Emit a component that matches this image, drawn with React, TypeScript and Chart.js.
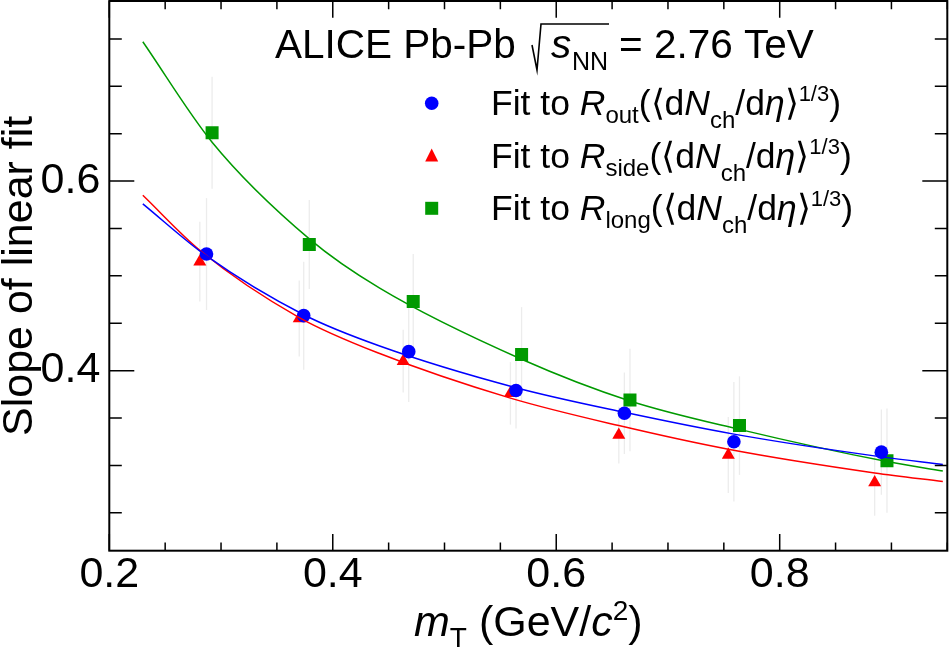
import React, { useEffect, useRef } from 'react';
import { Chart, registerables } from 'chart.js';

Chart.register(...registerables);

// measured points: mT (GeV/c^2), slope of linear fit, error
const mtOut = [0.287, 0.374, 0.468, 0.564, 0.661, 0.759, 0.891];
const slopeOut = [0.523, 0.458, 0.420, 0.379, 0.355, 0.325, 0.314];
const errOut = [0.059, 0.057, 0.053, 0.040, 0.043, 0.063, 0.045];

const mtSide = [0.281, 0.370, 0.463, 0.559, 0.656, 0.754, 0.885];
const slopeSide = [0.515, 0.455, 0.410, 0.376, 0.332, 0.311, 0.282];
const errSide = [0.042, 0.040, 0.033, 0.033, 0.030, 0.040, 0.035];

const mtLong = [0.292, 0.379, 0.472, 0.569, 0.666, 0.764, 0.896];
const slopeLong = [0.651, 0.533, 0.473, 0.417, 0.369, 0.342, 0.305];
const errLong = [0.059, 0.047, 0.050, 0.050, 0.054, 0.052, 0.055];

// fit curves
const fitXOut = [0.23, 0.287, 0.374, 0.442, 0.564, 0.661, 0.759, 0.891, 0.946];
const fitOut = [0.576, 0.521, 0.459, 0.426, 0.382, 0.356, 0.333, 0.309, 0.301];
const fitXSide = [0.23, 0.281, 0.370, 0.442, 0.559, 0.656, 0.754, 0.885, 0.946];
const fitSide = [0.585, 0.527, 0.456, 0.418, 0.371, 0.342, 0.317, 0.292, 0.283];
const fitXLong = [0.23, 0.292, 0.379, 0.442, 0.569, 0.666, 0.764, 0.896, 0.946];
const fitLong = [0.747, 0.641, 0.539, 0.487, 0.412, 0.368, 0.338, 0.304, 0.294];

const xMajor = [0.2, 0.4, 0.6, 0.8];
const yMajor = [0.4, 0.6];

const BLUE = '#0000ff';
const RED = '#ff0000';
const GREEN = '#009a00';
const FONT = '"Liberation Sans", Arial, Helvetica, sans-serif';

const pts = (xs: number[], ys: number[]) => xs.map((v, i) => ({ x: v, y: ys[i] }));
const isMajor = (v: number, list: number[]) => list.some((m) => Math.abs(m - v) < 1e-6);

type Run = { t: string; size: number; it?: boolean; dy?: number };

function runsWidth(ctx: CanvasRenderingContext2D, runs: Run[]) {
  let w = 0;
  for (const r of runs) {
    ctx.font = `${r.it ? 'italic ' : ''}${r.size}px ${FONT}`;
    w += ctx.measureText(r.t).width;
  }
  return w;
}

function drawRuns(ctx: CanvasRenderingContext2D, runs: Run[], x: number, y: number) {
  let cx = x;
  ctx.textAlign = 'left';
  ctx.textBaseline = 'alphabetic';
  for (const r of runs) {
    ctx.font = `${r.it ? 'italic ' : ''}${r.size}px ${FONT}`;
    ctx.fillText(r.t, cx, y + (r.dy || 0));
    cx += ctx.measureText(r.t).width;
  }
  return cx;
}

function marker(ctx: CanvasRenderingContext2D, kind: string, x: number, y: number, color: string) {
  ctx.fillStyle = color;
  ctx.beginPath();
  if (kind === 'circle') {
    ctx.arc(x, y, 6.8, 0, Math.PI * 2);
  } else if (kind === 'triangle') {
    ctx.moveTo(x, y - 7.5);
    ctx.lineTo(x + 6.5, y + 5.5);
    ctx.lineTo(x - 6.5, y + 5.5);
    ctx.closePath();
  } else {
    ctx.rect(x - 6.5, y - 6.5, 13, 13);
  }
  ctx.fill();
}

const legendRow = (sub: string): Run[] => [
  { t: 'Fit to ', size: 35.5 },
  { t: 'R', size: 35.5, it: true },
  { t: sub, size: 24, dy: 8 },
  { t: '(\u27E8d', size: 35.5 },
  { t: 'N', size: 35.5, it: true },
  { t: 'ch', size: 24, dy: 13 },
  { t: '/d', size: 35.5 },
  { t: '\u03B7', size: 35.5, it: true },
  { t: '\u27E9', size: 35.5 },
  { t: '1/3', size: 22, dy: -14 },
  { t: ')', size: 35.5 },
];

const rootPlugin = {
  id: 'rootStyle',
  beforeDatasetsDraw(chart: any) {
    const { ctx, scales } = chart;
    const x = scales.x;
    const y = scales.y;
    ctx.save();
    ctx.strokeStyle = '#ececec';
    ctx.lineWidth = 1.3;
    const groups: [number[], number[], number[]][] = [
      [mtSide, slopeSide, errSide],
      [mtOut, slopeOut, errOut],
      [mtLong, slopeLong, errLong],
    ];
    for (const [mx, my, me] of groups) {
      mx.forEach((v, i) => {
        const px = x.getPixelForValue(v);
        ctx.beginPath();
        ctx.moveTo(px, y.getPixelForValue(my[i] - me[i]));
        ctx.lineTo(px, y.getPixelForValue(my[i] + me[i]));
        ctx.stroke();
      });
    }
    ctx.restore();
  },
  afterDraw(chart: any) {
    const { ctx, chartArea: a, scales } = chart;
    const x = scales.x;
    const y = scales.y;
    ctx.save();
    ctx.strokeStyle = '#000';
    ctx.lineWidth = 2;
    ctx.strokeRect(a.left, a.top, a.right - a.left, a.bottom - a.top);

    ctx.lineWidth = 1.5;
    ctx.beginPath();
    for (let k = 0; ; k++) {
      const v = Math.round((x.min + k * 0.05) * 1000) / 1000;
      if (v > x.max + 1e-9) break;
      const px = x.getPixelForValue(v);
      const len = isMajor(v, xMajor) ? 16.7 : 8.3;
      ctx.moveTo(px, a.bottom);
      ctx.lineTo(px, a.bottom - len);
      ctx.moveTo(px, a.top);
      ctx.lineTo(px, a.top + len);
    }
    for (let k = Math.ceil(y.min / 0.05 - 1e-9); ; k++) {
      const v = Math.round(k * 0.05 * 1000) / 1000;
      if (v > y.max + 1e-9) break;
      const py = y.getPixelForValue(v);
      const len = isMajor(v, yMajor) ? 25 : 12.5;
      ctx.moveTo(a.left, py);
      ctx.lineTo(a.left + len, py);
      ctx.moveTo(a.right, py);
      ctx.lineTo(a.right - len, py);
    }
    ctx.stroke();

    ctx.fillStyle = '#000';
    // header
    drawRuns(ctx, [{ t: 'ALICE Pb-Pb', size: 40.5 }], 275, 57.7);
    ctx.lineWidth = 1.6;
    ctx.beginPath();
    ctx.moveTo(532, 45);
    ctx.lineTo(537, 70);
    ctx.lineTo(541, 24);
    ctx.lineTo(609, 24);
    ctx.stroke();
    drawRuns(ctx, [{ t: 's', size: 40.5, it: true }], 551, 57.7);
    drawRuns(ctx, [{ t: 'NN', size: 25 }], 572, 70);
    drawRuns(ctx, [{ t: '= 2.76 TeV', size: 40.5 }], 619, 57.7);

    // legend
    const rows: [string, string, string, number][] = [
      ['out', 'circle', BLUE, 103.3],
      ['side', 'triangle', RED, 156],
      ['long', 'rect', GREEN, 208.3],
    ];
    for (const [sub, kind, color, ry] of rows) {
      marker(ctx, kind, 431.7, ry, color);
      ctx.fillStyle = '#000';
      drawRuns(ctx, legendRow(sub), 491, ry + 11.5);
    }

    // x title
    const xt: Run[] = [
      { t: 'm', size: 43, it: true },
      { t: 'T', size: 28, dy: 11 },
      { t: ' (GeV/', size: 43 },
      { t: 'c', size: 43, it: true },
      { t: '2', size: 28, dy: -16 },
      { t: ')', size: 43 },
    ];
    const cx = (a.left + a.right) / 2;
    drawRuns(ctx, xt, cx - runsWidth(ctx, xt) / 2, 636);

    // y title
    ctx.save();
    ctx.translate(32, (a.top + a.bottom) / 2);
    ctx.rotate(-Math.PI / 2);
    ctx.font = `43px ${FONT}`;
    ctx.textAlign = 'center';
    ctx.textBaseline = 'alphabetic';
    ctx.fillText('Slope of linear fit', 0, 0);
    ctx.restore();

    ctx.restore();
  },
};

const noPad = (s: any) => {
  s.paddingTop = 0;
  s.paddingBottom = 0;
  s.paddingLeft = 0;
  s.paddingRight = 0;
};

export default function App() {
  const canvasRef = useRef<HTMLCanvasElement>(null);
  const chartRef = useRef<Chart | null>(null);

  useEffect(() => {
    if (!canvasRef.current) return;
    const ctx = canvasRef.current.getContext('2d');
    if (!ctx) return;
    if (chartRef.current) chartRef.current.destroy();

    const fitLine = (data: { x: number; y: number }[], color: string) => ({
      data,
      showLine: true,
      borderColor: color,
      borderWidth: 1.5,
      pointRadius: 0,
      cubicInterpolationMode: 'monotone' as const,
      fill: false,
    });
    const points = (data: { x: number; y: number }[], color: string, style: string, r: number) => ({
      data,
      showLine: false,
      pointStyle: style,
      pointRadius: r,
      pointBackgroundColor: color,
      pointBorderColor: color,
      pointBorderWidth: 0,
    });

    chartRef.current = new Chart(ctx, {
      type: 'scatter',
      data: {
        datasets: [
          fitLine(pts(fitXOut, fitOut), BLUE),
          fitLine(pts(fitXSide, fitSide), RED),
          fitLine(pts(fitXLong, fitLong), GREEN),
          points(pts(mtOut, slopeOut), BLUE, 'circle', 6.8),
          points(pts(mtSide, slopeSide), RED, 'triangle', 7.5),
          points(pts(mtLong, slopeLong), GREEN, 'rect', 9.2),
        ] as any,
      },
      options: {
        responsive: false,
        animation: false,
        events: [],
        layout: { autoPadding: false, padding: { left: 0, top: 1, right: 2.7, bottom: 0 } },
        plugins: { legend: { display: false }, tooltip: { enabled: false }, title: { display: false } },
        scales: {
          x: {
            type: 'linear',
            min: 0.2,
            max: 0.95,
            grid: { display: false, drawTicks: false },
            border: { display: false },
            ticks: {
              stepSize: 0.05,
              autoSkip: false,
              maxRotation: 0,
              minRotation: 0,
              padding: 3,
              color: '#000',
              font: { family: FONT, size: 43, lineHeight: 1 },
              callback: (v: any) => (isMajor(Number(v), xMajor) ? Number(v).toFixed(1) : ''),
            },
            afterFit: (s: any) => {
              s.height = 99.3;
              noPad(s);
            },
          },
          y: {
            type: 'linear',
            min: 0.21,
            max: 0.79,
            grid: { display: false, drawTicks: false },
            border: { display: false },
            ticks: {
              stepSize: 0.05,
              autoSkip: false,
              padding: 9,
              color: '#000',
              font: { family: FONT, size: 43, lineHeight: 1 },
              callback: (v: any) => (isMajor(Number(v), yMajor) ? Number(v).toFixed(1) : ''),
            },
            afterFit: (s: any) => {
              s.width = 109.3;
              noPad(s);
            },
          },
        },
      },
      plugins: [rootPlugin],
    });

    return () => {
      if (chartRef.current) chartRef.current.destroy();
      chartRef.current = null;
    };
  }, []);

  return (
    <div style={{ position: 'absolute', left: 0, top: 0, width: 950, height: 650, background: '#fff' }}>
      <canvas ref={canvasRef} width={950} height={650} />
    </div>
  );
}
